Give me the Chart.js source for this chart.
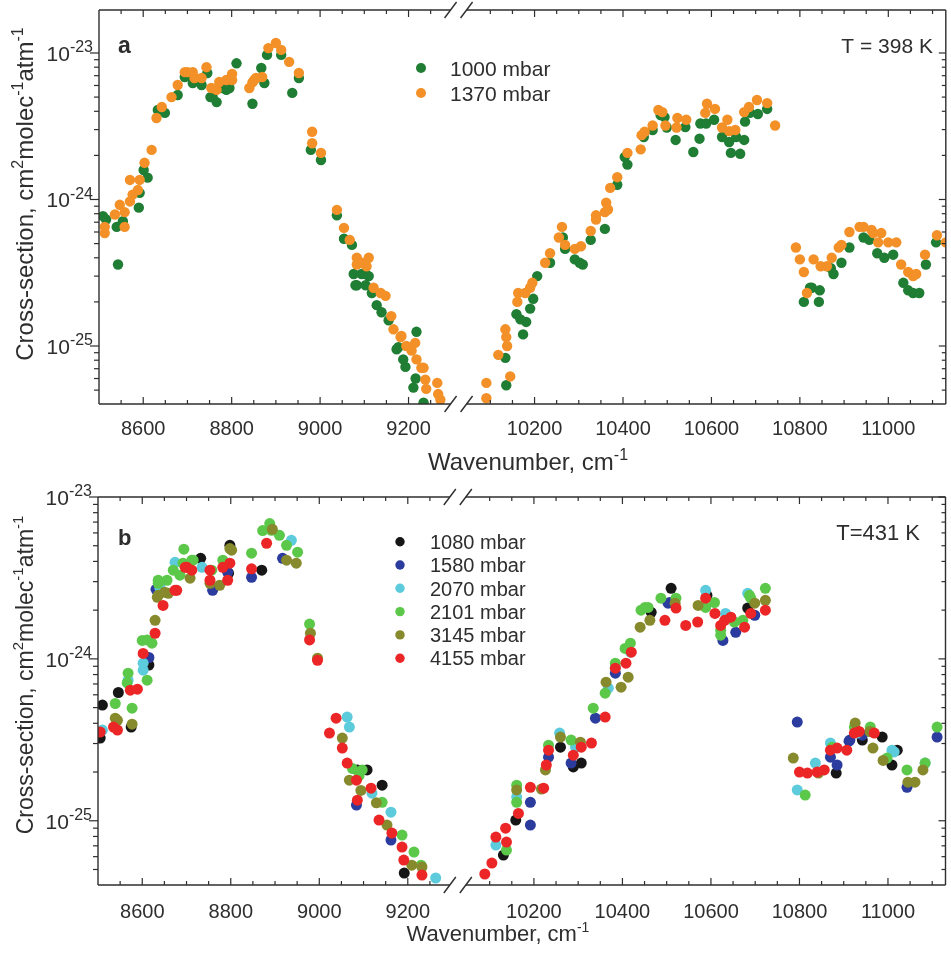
<!DOCTYPE html>
<html>
<head>
<meta charset="utf-8">
<script src="https://cdn.jsdelivr.net/npm/chart.js@4.4.0/dist/chart.umd.min.js"></script>
<style>
  html, body { margin: 0; padding: 0; background: #fff; }
  #wrap { position: relative; width: 951px; height: 954px; overflow: hidden; }
  canvas { position: absolute; left: 0; }
</style>
</head>
<body>
<div id="wrap">
  <canvas id="panelA" width="951" height="478" style="top:0"></canvas>
  <canvas id="panelB" width="951" height="476" style="top:478px"></canvas>
</div>
<script>
/* ── axis layout ── */
const FONT = '"Liberation Sans", Arial, Helvetica, sans-serif';
const INK  = '#2e2e2e';

const GAP_FROM     = 9295;    // wavenumber axis is broken between these two
const GAP_TO       = 10010;
const X_MIN        = 8500;
const X_MAX        = 11130;
const X_MAJOR      = [8600, 8800, 9000, 9200, 10200, 10400, 10600, 10800, 11000];
const X_MINOR_STEP = 50;
const Y_DECADES    = [-25, -24, -23];   // labelled powers of ten
const Y_UNIT_EXP   = -24;               // values below are in 1e-24 cm2 molec-1 atm-1

/* ── panel a : T = 398 K ── */
const A_LABELS = ['1000 mbar', '1370 mbar'];
const A_COLORS = ['#1f7d34', '#f39027'];

const a1000 = [
  [8509,0.77],[8516,0.73],[8540,0.65],[8543,0.36],[8554,0.71],[8590,0.88],[8592,1.11],[8601,1.59],
  [8610,1.41],[8633,4.08],[8649,3.9],[8678,5.17],[8694,6.86],[8712,6.24],[8712,6.75],[8732,6.05],
  [8745,7.3],[8752,5.0],[8757,5.0],[8766,4.62],[8779,5.77],[8788,5.6],[8795,5.77],[8811,8.5],
  [8847,4.5],[8867,7.9],[8874,6.24],[8880,9.7],[8912,9.7],[8937,5.34],[8952,6.75],[8979,2.18],
  [9002,1.86],
  [9038,0.78],[9054,0.54],[9072,0.49],[9076,0.31],[9080,0.26],[9083,0.26],[9094,0.31],[9103,0.31],
  [9103,0.26],[9110,0.30],[9117,0.23],[9128,0.19],[9139,0.17],[9155,0.15],[9173,0.095],[9177,0.098],
  [9188,0.081],[9193,0.072],[9211,0.052],[9216,0.06],[9218,0.125],[9234,0.041],
  [10134,0.083],[10136,0.054],[10159,0.165],[10168,0.152],[10174,0.12],[10181,0.146],[10190,0.18],
  [10197,0.21],[10206,0.30],[10235,0.37],[10264,0.55],[10269,0.46],[10291,0.39],[10302,0.37],
  [10309,0.36],[10327,0.53],[10359,0.63],[10387,1.26],[10404,1.95],[10410,1.73],[10447,2.67],
  [10467,2.98],[10485,3.77],[10494,3.65],[10499,3.1],[10519,2.55],[10541,3.12],[10559,2.11],
  [10573,2.6],[10575,3.3],[10588,3.3],[10606,3.5],[10624,2.67],[10640,2.47],[10644,2.08],
  [10656,2.67],[10665,2.05],[10674,2.55],[10676,3.4],[10687,3.9],[10705,3.83],[10726,4.15],
  [10809,0.20],[10823,0.25],[10827,0.25],[10843,0.20],[10845,0.24],[10870,0.34],[10876,0.31],
  [10894,0.37],[10912,0.47],[10944,0.55],[10957,0.53],[10975,0.43],[10991,0.40],[11011,0.42],
  [11034,0.27],[11045,0.24],[11056,0.23],[11070,0.23],[11085,0.36],[11108,0.51],
];

const a1370 = [
  [8513,0.59],[8513,0.65],[8536,0.79],[8547,0.92],[8558,0.65],[8558,0.82],[8570,0.97],[8570,1.36],
  [8576,1.08],[8588,1.16],[8592,1.36],[8603,1.78],[8619,2.18],[8630,3.6],[8642,4.28],[8664,5.0],
  [8678,6.05],[8694,7.4],[8700,7.4],[8712,7.4],[8716,6.75],[8732,6.75],[8743,8.0],[8754,5.77],
  [8766,5.6],[8772,6.34],[8788,6.54],[8801,7.2],[8801,6.54],[8840,5.77],[8847,6.3],[8851,6.54],
  [8855,6.75],[8869,6.86],[8883,10.8],[8900,11.7],[8912,10.5],[8930,8.7],[8952,7.3],[8982,2.9],
  [8982,2.42],[9002,2.08],
  [9038,0.85],[9054,0.64],[9067,0.53],[9083,0.40],[9083,0.36],[9094,0.37],[9105,0.35],[9110,0.40],
  [9121,0.25],[9137,0.23],[9148,0.22],[9161,0.16],[9166,0.13],[9182,0.115],[9184,0.117],[9195,0.10],
  [9207,0.093],[9215,0.105],[9218,0.081],[9229,0.071],[9234,0.071],[9238,0.059],[9240,0.051],
  [9265,0.056],[9267,0.047],[9272,0.043],
  [10091,0.056],[10091,0.044],[10118,0.087],[10134,0.13],[10136,0.115],[10138,0.10],[10145,0.062],
  [10161,0.20],[10163,0.23],[10179,0.23],[10190,0.25],[10195,0.27],[10224,0.37],[10235,0.43],
  [10255,0.55],[10262,0.65],[10269,0.49],[10291,0.46],[10305,0.48],[10327,0.61],[10339,0.73],
  [10339,0.78],[10359,0.82],[10362,0.95],[10366,0.855],[10371,1.2],[10387,1.42],[10410,2.08],
  [10440,2.2],[10442,2.75],[10449,2.9],[10467,3.2],[10480,4.08],[10489,3.95],[10496,3.2],
  [10521,3.1],[10523,3.6],[10543,3.5],[10586,3.9],[10590,4.5],[10608,4.15],[10624,3.1],[10636,3.5],
  [10640,2.93],[10654,2.98],[10674,3.95],[10685,4.28],[10703,4.78],[10726,4.55],[10744,3.2],
  [10791,0.47],[10800,0.39],[10809,0.32],[10816,0.23],[10831,0.39],[10847,0.35],[10861,0.35],
  [10872,0.40],[10888,0.47],[10894,0.49],[10912,0.60],[10935,0.65],[10944,0.65],[10962,0.62],
  [10966,0.59],[10977,0.51],[10984,0.59],[11000,0.51],[11018,0.51],[11029,0.36],[11045,0.32],
  [11056,0.30],[11063,0.31],[11083,0.42],[11110,0.57],[11130,0.51],
];

/* ── panel b : T = 431 K ── */
const B_LABELS = ['1080 mbar', '1580 mbar', '2070 mbar', '2101 mbar', '3145 mbar', '4155 mbar'];
const B_COLORS = ['#161616', '#2b3b9e', '#5ccbdc', '#5cc84a', '#878a2c', '#ec2626'];

const b1080 = [
  [8505,0.324],[8510,0.518],[8546,0.62],[8575,0.379],[8615,0.915],[8732,4.18],[8795,3.38],[8798,5.03],
  [8870,3.53],[9086,0.206],[9108,0.206],[9142,0.166],[9192,0.0475],
  [10131,0.0614],[10159,0.101],[10260,0.285],[10289,0.215],[10307,0.227],[10465,1.94],[10510,2.73],
  [10591,2.47],[10683,2.06],[10883,0.197],[10942,0.315],[10987,0.329],[11009,0.221],[11021,0.273],
];
const b1580 = [
  [8615,1.02],[8631,2.69],[8640,2.73],[8759,2.65],[8793,3.43],[8847,3.19],[8917,4.18],[9084,0.125],
  [9162,0.076],
  [10192,0.094],[10192,0.13],[10233,0.247],[10284,0.227],[10339,0.43],[10384,0.816],[10503,2.21],
  [10507,2.23],[10627,1.30],[10656,1.46],[10699,1.86],[10795,0.407],[10870,0.247],[10885,0.221],
  [10912,0.31],[10914,0.315],[10942,0.338],[11043,0.161],[11111,0.329],
];
const b2070 = [
  [8510,0.363],[8568,0.739],[8602,0.851],[8602,0.94],[8640,2.73],[8674,3.95],[8735,3.68],[8937,5.40],
  [9063,0.437],[9068,0.379],[9119,0.148],[9162,0.113],[9263,0.0443],
  [10114,0.0708],[10161,0.140],[10258,0.348],[10294,0.285],[10368,0.659],[10384,0.889],[10418,1.10],
  [10588,2.65],[10633,1.91],[10683,2.54],[10795,0.155],[10836,0.227],[10870,0.302],[10930,0.348],
  [11009,0.273],[11014,0.266],[11084,0.227],
];
const b2101 = [
  [8539,0.53],[8566,0.71],[8568,0.816],[8577,0.496],[8600,1.30],[8611,0.739],[8611,1.31],[8622,1.25],
  [8636,2.93],[8636,3.06],[8656,3.06],[8670,3.53],[8685,3.29],[8692,3.9],[8694,4.76],[8712,4.07],
  [8715,4.07],[8757,3.53],[8782,4.07],[8847,4.5],[8872,6.2],[8888,6.85],[8892,6.23],[8910,5.80],
  [8926,5.03],[8951,4.56],[8978,1.64],[9075,0.21],[9090,0.19],[9097,0.206],[9142,0.130],[9187,0.0816],
  [9214,0.0641],[9230,0.0532],
  [10138,0.0659],[10161,0.166],[10161,0.130],[10233,0.293],[10284,0.315],[10334,0.496],[10361,0.614],
  [10384,0.941],[10406,1.16],[10418,1.25],[10442,2.0],[10451,2.08],[10458,2.08],[10487,2.37],
  [10521,2.37],[10588,2.08],[10608,2.23],[10622,1.40],[10622,1.50],[10653,1.69],[10672,1.73],
  [10687,2.47],[10690,2.37],[10723,2.73],[10813,0.144],[10874,0.285],[10924,0.379],[10960,0.379],
  [10998,0.244],[11043,0.206],[11084,0.227],[11111,0.379],
];
const b3145 = [
  [8539,0.43],[8544,0.417],[8577,0.395],[8629,1.73],[8634,2.40],[8636,2.47],[8651,2.58],[8659,2.54],
  [8708,3.15],[8753,2.93],[8775,2.85],[8798,4.8],[8802,4.69],[8894,6.32],[8926,4.07],[8948,3.9],
  [8980,1.44],[8996,1.01],[9052,0.324],[9068,0.178],[9094,0.154],[9129,0.129],[9153,0.094],
  [9209,0.0532],[9232,0.0518],
  [10161,0.155],[10217,0.157],[10226,0.206],[10260,0.329],[10305,0.306],[10363,0.718],[10397,0.669],
  [10413,0.771],[10440,1.57],[10462,1.73],[10519,2.21],[10571,2.14],[10699,2.21],[10723,2.30],
  [10786,0.244],[10843,0.197],[10926,0.401],[10959,0.356],[10966,0.281],[10989,0.236],[11045,0.173],
  [11061,0.173],[11079,0.206],
];
const b4155 = [
  [8505,0.353],[8535,0.379],[8544,0.363],[8573,0.641],[8589,0.65],[8602,1.08],[8629,1.44],[8647,2.14],
  [8674,2.65],[8678,2.65],[8697,3.68],[8701,3.68],[8712,3.53],[8753,3.53],[8753,3.06],[8782,3.68],
  [8793,3.06],[8798,3.9],[8847,3.6],[8881,5.18],[8978,1.31],[8996,0.98],
  [9023,0.348],[9038,0.43],[9052,0.281],[9063,0.227],[9084,0.178],[9086,0.134],[9117,0.159],
  [9135,0.101],[9164,0.084],[9187,0.0688],[9191,0.0572],[9232,0.0462],
  [10089,0.0469],[10105,0.0548],[10114,0.0793],[10136,0.090],[10138,0.0739],[10165,0.111],
  [10192,0.161],[10222,0.159],[10228,0.221],[10233,0.273],[10289,0.254],[10307,0.285],[10330,0.302],
  [10361,0.437],[10384,0.876],[10408,0.941],[10420,1.10],[10496,1.73],[10521,2.06],[10543,1.61],
  [10570,1.69],[10588,2.37],[10609,1.91],[10622,1.61],[10631,1.73],[10645,1.81],[10676,1.57],
  [10690,1.91],[10723,2.0],[10800,0.20],[10818,0.197],[10840,0.20],[10856,0.206],[10870,0.273],
  [10885,0.281],[10907,0.273],[10924,0.348],[10935,0.356],[10969,0.348],
];

/* ─────────────────────────── helpers ─────────────────────────── */

/* removes the broken-out stretch of the wavenumber axis */
function squeeze(w) {
  return w > GAP_FROM ? w - (GAP_TO - GAP_FROM) : w;
}

function line(ctx, x1, y1, x2, y2) {
  ctx.beginPath();
  ctx.moveTo(x1, y1);
  ctx.lineTo(x2, y2);
  ctx.stroke();
}

/* text with superscripts: parts = [[text, isSup], ...] */
function drawRich(ctx, parts, x, y, size, align, supScale) {
  const sup = Math.round(size * supScale);
  const fontOf = s => `${s ? sup : size}px ${FONT}`;
  let w = 0;
  for (const [t, s] of parts) { ctx.font = fontOf(s); w += ctx.measureText(t).width; }
  let cx = align === 'center' ? x - w / 2 : align === 'right' ? x - w : x;
  ctx.textAlign = 'left';
  ctx.textBaseline = 'alphabetic';
  for (const [t, s] of parts) {
    ctx.font = fontOf(s);
    ctx.fillText(t, cx, s ? y - size * 0.42 : y);
    cx += ctx.measureText(t).width;
  }
}

function makeFrame(cfg, labels, colors) {
  return {
    id: 'frame',
    afterDraw(chart) {
      const { ctx, chartArea: a } = chart;
      const sx = chart.scales.x, sy = chart.scales.y;
      const px = w => sx.getPixelForValue(squeeze(w));
      const py = v => sy.getPixelForValue(v);
      const bx = px(GAP_FROM);

      ctx.save();
      ctx.strokeStyle = INK;
      ctx.fillStyle   = INK;
      ctx.lineWidth   = 1.4;

      /* frame, interrupted at the axis break */
      line(ctx, a.left, a.top, a.left, a.bottom);
      line(ctx, a.right, a.top, a.right, a.bottom);
      for (const yy of [a.top, a.bottom]) {
        line(ctx, a.left, yy, bx, yy);
        line(ctx, bx + 16, yy, a.right, yy);
        line(ctx, bx - 6, yy + 8, bx + 6, yy - 8);
        line(ctx, bx + 10, yy + 8, bx + 22, yy - 8);
      }

      /* x ticks, inward on top and bottom */
      ctx.lineWidth = 1.2;
      const minor = [];
      for (let w = X_MIN + X_MINOR_STEP; w < GAP_FROM; w += X_MINOR_STEP) minor.push(w);
      const first = Math.ceil((GAP_TO + X_MINOR_STEP) / X_MINOR_STEP) * X_MINOR_STEP;
      for (let w = first; w < X_MAX; w += X_MINOR_STEP) minor.push(w);
      for (const w of minor) {
        const len = X_MAJOR.includes(w) ? 7 : 4;
        const x = px(w);
        line(ctx, x, a.bottom, x, a.bottom - len);
        line(ctx, x, a.top, x, a.top + len);
      }

      /* y ticks: outward on the left, inward on the right */
      for (let k = -3; k <= 2; k++) {
        for (let m = 1; m <= 9; m++) {
          const v = m * Math.pow(10, k);
          if (v < sy.min || v > sy.max * 1.0001) continue;
          const y = py(v);
          const major = m === 1;
          line(ctx, a.left, y, a.left - (major ? 9 : 5), y);
          line(ctx, a.right, y, a.right - (major ? 7 : 4), y);
        }
      }

      /* tick labels */
      ctx.font = `20px ${FONT}`;
      ctx.textAlign = 'center';
      ctx.textBaseline = 'alphabetic';
      for (const w of X_MAJOR) ctx.fillText(String(w), px(w), a.bottom + cfg.xLabelDy);
      for (const e of Y_DECADES) {
        const y = py(Math.pow(10, e - Y_UNIT_EXP));
        drawRich(ctx, [['10', 0], [String(e), 1]], a.left - 6, y + 8, 21, 'right', 0.76);
      }

      /* axis titles */
      const t = cfg.xTitle;
      drawRich(ctx, [['Wavenumber, cm', 0], ['-1', 1]], t.x, t.y, t.size, 'center', 0.65);
      const yt = cfg.yTitle;
      ctx.save();
      ctx.translate(yt.x, yt.y);
      ctx.rotate(-Math.PI / 2);
      drawRich(ctx, [['Cross-section, cm', 0], ['2', 1], ['molec', 0], ['-1', 1], ['atm', 0], ['-1', 1]],
        0, 0, yt.size, 'center', 0.65);
      ctx.restore();

      /* legend */
      const lg = cfg.legend;
      labels.forEach((lbl, i) => {
        const y = lg.y0 + i * lg.dy;
        ctx.fillStyle = colors[i];
        ctx.beginPath();
        ctx.arc(lg.x, y, lg.r, 0, Math.PI * 2);
        ctx.fill();
        ctx.fillStyle = INK;
        ctx.font = `${lg.size}px ${FONT}`;
        ctx.textAlign = 'left';
        ctx.fillText(lbl, lg.textX, y + lg.size * 0.36);
      });

      /* panel letter and temperature */
      const L = cfg.letter;
      ctx.font = `bold ${L.size}px ${FONT}`;
      ctx.textAlign = 'left';
      ctx.fillText(L.text, L.x, L.y);
      const T = cfg.temp;
      ctx.font = `${T.size}px ${FONT}`;
      ctx.textAlign = 'right';
      ctx.fillText(T.text, T.x, T.y);

      ctx.restore();
    },
  };
}

function buildPanel(canvasId, series, labels, colors, cfg) {
  const datasets = series.map((pts, i) => ({
    label           : labels[i],
    data            : pts.map(([w, v]) => ({ x: squeeze(w), y: v })),
    backgroundColor : colors[i],
    borderColor     : colors[i],
    pointRadius     : cfg.r,
    pointBorderWidth: 0,
    showLine        : false,
    order           : -i,          /* later pressures drawn on top */
  }));

  return new Chart(document.getElementById(canvasId), {
    type: 'scatter',
    data: { datasets },
    options: {
      responsive      : false,
      animation       : false,
      devicePixelRatio: 1,
      events          : [],
      layout : { padding: cfg.pad },
      plugins: { legend: { display: false }, tooltip: { enabled: false } },
      scales : {
        x: { type: 'linear', display: false, bounds: 'data', min: squeeze(X_MIN), max: squeeze(X_MAX) },
        y: { type: 'logarithmic', display: false, bounds: 'data', min: cfg.yMin, max: cfg.yMax },
      },
    },
    plugins: [makeFrame(cfg, labels, colors)],
  });
}

buildPanel('panelA', [a1000, a1370], A_LABELS, A_COLORS, {
  pad     : { left: 99, right: 1, top: 10, bottom: 74 },
  yMin    : 0.0402,
  yMax    : 19.65,
  r       : 5.2,
  xLabelDy: 31,
  xTitle  : { x: 528, y: 470, size: 24 },
  yTitle  : { x: 33, y: 194, size: 24 },
  legend  : { x: 421, y0: 68, dy: 25, textX: 450, size: 21, r: 5 },
  letter  : { text: 'a', x: 118, y: 53, size: 23 },
  temp    : { text: 'T = 398 K', x: 933, y: 53, size: 21 },
});

buildPanel('panelB', [b1080, b1580, b2070, b2101, b3145, b4155], B_LABELS, B_COLORS, {
  pad     : { left: 98, right: 1, top: 19, bottom: 69 },
  yMin    : 0.0401,
  yMax    : 10,
  r       : 5.5,
  xLabelDy: 33,
  xTitle  : { x: 498, y: 463, size: 22 },
  yTitle  : { x: 33, y: 197, size: 23 },
  legend  : { x: 400, y0: 63.7, dy: 23.3, textX: 430, size: 20, r: 4.7 },
  letter  : { text: 'b', x: 118, y: 67, size: 22 },
  temp    : { text: 'T=431 K', x: 920, y: 62, size: 22 },
});
</script>
</body>
</html>
